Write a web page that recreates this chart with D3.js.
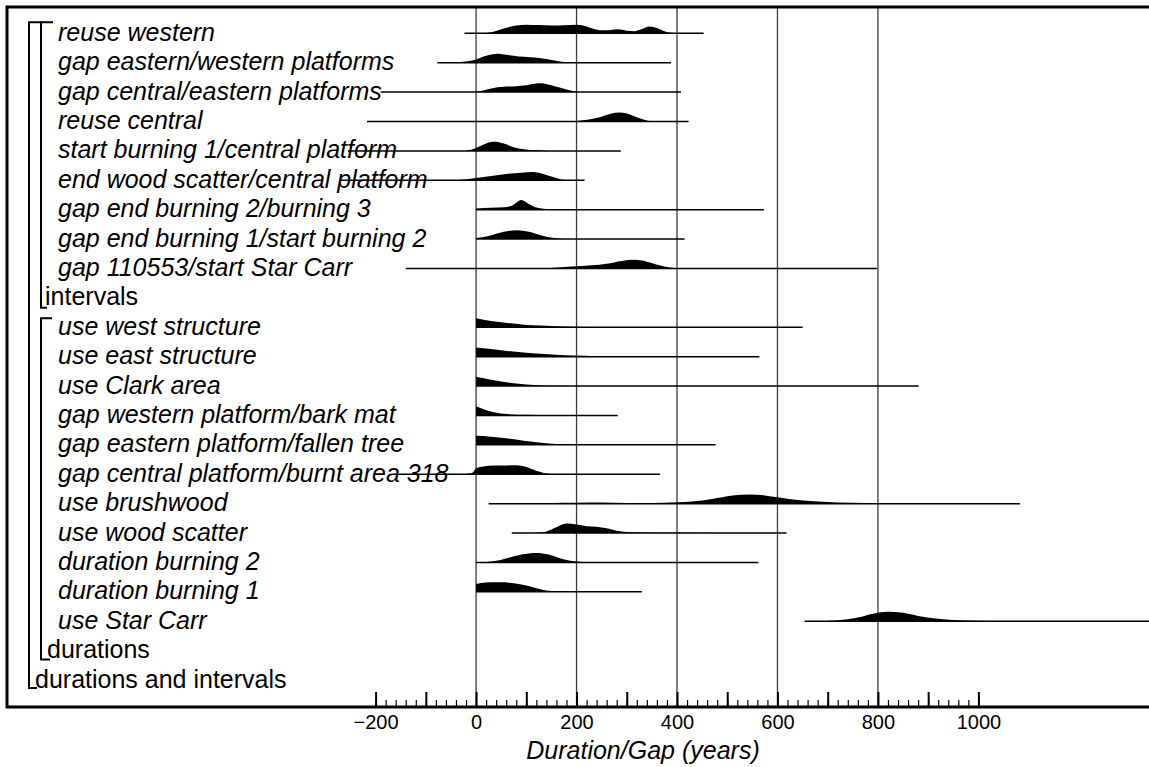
<!DOCTYPE html>
<html>
<head>
<meta charset="utf-8">
<script src="https://cdn.jsdelivr.net/npm/d3@7"></script>
<style>
  html, body { margin: 0; padding: 0; background: #fff; }
  svg { display: block; }
  text { font-family: "Liberation Sans", Arial, sans-serif; }
</style>
</head>
<body>
<svg id="chart" width="1149" height="767"></svg>
<script>
// ---------------- data ----------------
const rowOrder = [
  "reuse western",
  "gap eastern/western platforms",
  "gap central/eastern platforms",
  "reuse central",
  "start burning 1/central platform",
  "end wood scatter/central platform",
  "gap end burning 2/burning 3",
  "gap end burning 1/start burning 2",
  "gap 110553/start Star Carr",
  "intervals",
  "use west structure",
  "use east structure",
  "use Clark area",
  "gap western platform/bark mat",
  "gap eastern platform/fallen tree",
  "gap central platform/burnt area 318",
  "use brushwood",
  "use wood scatter",
  "duration burning 2",
  "duration burning 1",
  "use Star Carr",
  "durations",
  "durations and intervals"
];

const groupLabels = ["intervals", "durations", "durations and intervals"];

// range of each distribution (years)
const rangeLo = [-23, -77, -190, -217, -255, -270, 0, 0, -140,
                 0, 0, 0, 0, 0, -160, 25, 71, 0, 0, 654];
const rangeHi = [453, 388, 408, 423, 288, 216, 573, 415, 798,
                 650, 564, 881, 282, 477, 366, 1083, 618, 562, 330, 1400];

const itemLabels = rowOrder.filter(d => !groupLabels.includes(d));

// relative probability (year, relative density)
const densities = [
  [[10,0],[30,0.1],[55,0.45],[80,0.75],[100,0.82],[125,0.78],[150,0.74],[175,0.76],[200,0.82],[215,0.72],[235,0.4],[250,0.28],[265,0.3],[283,0.38],[300,0.25],[315,0.2],[330,0.4],[345,0.65],[360,0.5],[375,0.2],[392,0.03],[405,0]],
  [[-45,0],[-25,0.08],[0,0.3],[20,0.65],[42,0.85],[60,0.75],[85,0.58],[108,0.52],[125,0.45],[148,0.28],[170,0.1],[195,0.02],[210,0]],
  [[-5,0],[10,0.1],[30,0.35],[55,0.5],[80,0.55],[100,0.65],[120,0.82],[130,0.85],[150,0.65],[170,0.38],[190,0.12],[205,0.02],[215,0]],
  [[170,0],[200,0.05],[225,0.18],[250,0.45],[270,0.75],[285,0.85],[300,0.75],[320,0.4],[340,0.1],[355,0]],
  [[-25,0],[-10,0.1],[10,0.5],[30,0.85],[40,0.88],[55,0.7],[75,0.35],[95,0.15],[120,0.05],[145,0]],
  [[-55,0],[-30,0.06],[0,0.22],[30,0.4],[60,0.6],[90,0.72],[111,0.78],[130,0.65],[150,0.35],[170,0.08],[185,0]],
  [[0,0.12],[30,0.18],[55,0.22],[72,0.4],[90,0.92],[105,0.55],[120,0.2],[140,0.06],[160,0]],
  [[0,0.1],[25,0.3],[55,0.7],[82,0.85],[105,0.7],[130,0.35],[155,0.1],[175,0]],
  [[120,0],[150,0.05],[190,0.18],[230,0.3],[260,0.45],[290,0.72],[315,0.82],[340,0.65],[365,0.3],[385,0.08],[405,0.02],[440,0]],
  [[0,0.86],[30,0.6],[62,0.41],[95,0.25],[128,0.16],[195,0.05],[260,0.02],[315,0]],
  [[0,0.86],[30,0.72],[62,0.55],[95,0.4],[128,0.28],[160,0.18],[195,0.1],[240,0.04],[290,0]],
  [[0,0.88],[20,0.7],[45,0.48],[70,0.3],[100,0.15],[130,0.06],[170,0.02],[210,0]],
  [[0,0.88],[15,0.6],[36,0.3],[62,0.13],[100,0.06],[140,0.02],[165,0]],
  [[0,0.86],[30,0.78],[60,0.62],[95,0.4],[130,0.2],[160,0.08],[185,0.03],[210,0]],
  [[-25,0],[-8,0.12],[0,0.55],[12,0.72],[38,0.82],[62,0.84],[80,0.85],[100,0.68],[118,0.35],[135,0.12],[155,0]],
  [[60,0],[100,0.03],[150,0.07],[200,0.09],[250,0.1],[300,0.07],[350,0.06],[400,0.12],[430,0.2],[470,0.45],[510,0.78],[545,0.88],[575,0.78],[600,0.6],[640,0.35],[690,0.18],[750,0.08],[800,0.03],[860,0]],
  [[115,0],[140,0.15],[160,0.55],[180,0.9],[200,0.8],[220,0.65],[240,0.6],[260,0.45],[280,0.22],[300,0.1],[340,0.04],[400,0.02],[480,0]],
  [[0,0.02],[20,0.05],[40,0.15],[65,0.45],[90,0.75],[120,0.9],[145,0.75],[170,0.35],[195,0.1],[230,0]],
  [[0,0.75],[10,0.85],[30,0.9],[50,0.9],[75,0.82],[100,0.6],[120,0.35],[140,0.12],[160,0.03],[175,0]],
  [[690,0],[720,0.08],[760,0.35],[790,0.72],[820,0.9],[850,0.8],[880,0.5],[910,0.28],[950,0.12],[1000,0.05],[1060,0.02],[1120,0]]
];

const majorTicks = [-200, -100, 0, 100, 200, 300, 400, 500, 600, 700, 800, 900, 1000];
const labelTicks = [-200, 0, 200, 400, 600, 800, 1000];
const gridTicks = [0, 200, 400, 600, 800];
const minorTicks = d3.range(-200, 1001, 20);
const axisTitle = "Duration/Gap (years)";

// ---------------- drawing ----------------
const svg = d3.select("#chart");
const W = 1149, H = 767;
const frameLeft = 7, frameTop = 7, axisY = 707;

const x = d3.scaleLinear().domain([-200, 1000]).range([375.6, 978.4]);
const y = d3.scalePoint().domain(rowOrder).range([33.3, 680]);
const h = d3.scaleLinear().domain([0, 1]).range([0, 10.5]);

// gridlines
svg.append("g").selectAll("line").data(gridTicks).join("line")
  .attr("x1", d => x(d)).attr("x2", d => x(d))
  .attr("y1", frameTop).attr("y2", axisY)
  .attr("stroke", "#3a3a3a").attr("stroke-width", 1.3);

// labels
svg.append("g").selectAll("text").data(itemLabels).join("text")
  .attr("x", 58).attr("y", d => y(d) + 7.5)
  .attr("font-size", 25).attr("font-style", "italic").attr("fill", "#000")
  .text(d => d);

const groupX = {"intervals": 45, "durations": 47, "durations and intervals": 35};
svg.append("g").selectAll("text").data(groupLabels).join("text")
  .attr("x", d => groupX[d]).attr("y", d => y(d) + 7.5)
  .attr("font-size", 25).attr("fill", "#000")
  .text(d => d);

// distributions
const area = d3.area()
  .x(d => x(d[0]))
  .curve(d3.curveMonotoneX);

const rows = svg.append("g");
itemLabels.forEach((lab, i) => {
  const yy = y(lab);
  const pts = densities[i];
  rows.append("path")
    .datum(pts)
    .attr("d", area.y0(yy).y1(d => yy - h(d[1])))
    .attr("fill", "#000");
  rows.append("line")
    .attr("x1", x(rangeLo[i])).attr("x2", Math.min(x(rangeHi[i]), W + 5))
    .attr("y1", yy).attr("y2", yy)
    .attr("stroke", "#000").attr("stroke-width", 1.5);
});

// brackets
const brackets = [
  {x: 29, top: itemLabels[0], bottom: "durations and intervals", tTop: 12, tBot: 8, offTop: -11, offBot: 8},
  {x: 41, top: itemLabels[0], bottom: "intervals", tTop: 12, tBot: 6, offTop: -11, offBot: 10},
  {x: 41, top: "use west structure", bottom: "durations", tTop: 11, tBot: 9, offTop: -9, offBot: 9}
];
svg.append("g").selectAll("path").data(brackets).join("path")
  .attr("d", b => {
    const t = y(b.top) + b.offTop, bt = y(b.bottom) + b.offBot;
    return `M${b.x + b.tTop},${t}H${b.x}V${bt}H${b.x + b.tBot}`;
  })
  .attr("fill", "none").attr("stroke", "#000").attr("stroke-width", 2);

// frame
svg.append("path")
  .attr("d", `M${W + 10},${frameTop}H${frameLeft}V${axisY}H${W + 10}`)
  .attr("fill", "none").attr("stroke", "#000").attr("stroke-width", 3);

// axis
const minorAxis = d3.axisBottom(x).tickValues(minorTicks).tickSize(-7).tickFormat("");
const gMinor = svg.append("g").attr("transform", `translate(0,${axisY})`).call(minorAxis);
gMinor.select(".domain").remove();
gMinor.selectAll(".tick line").attr("stroke", "#000").attr("stroke-width", 1.2);

const majorAxis = d3.axisBottom(x).tickValues(majorTicks).tickSize(-15).tickPadding(8)
  .tickFormat(d => labelTicks.includes(d) ? d3.format("")(d) : "");
const gMajor = svg.append("g").attr("transform", `translate(0,${axisY})`).call(majorAxis);
gMajor.select(".domain").remove();
gMajor.selectAll(".tick line").attr("stroke", "#000").attr("stroke-width", 2);
gMajor.selectAll(".tick text")
  .attr("font-family", "'Liberation Sans', Arial, sans-serif")
  .attr("font-size", 20).attr("fill", "#000");

svg.append("text")
  .attr("x", 643).attr("y", 759)
  .attr("text-anchor", "middle")
  .attr("font-size", 25).attr("font-style", "italic")
  .text(axisTitle);
</script>
</body>
</html>
